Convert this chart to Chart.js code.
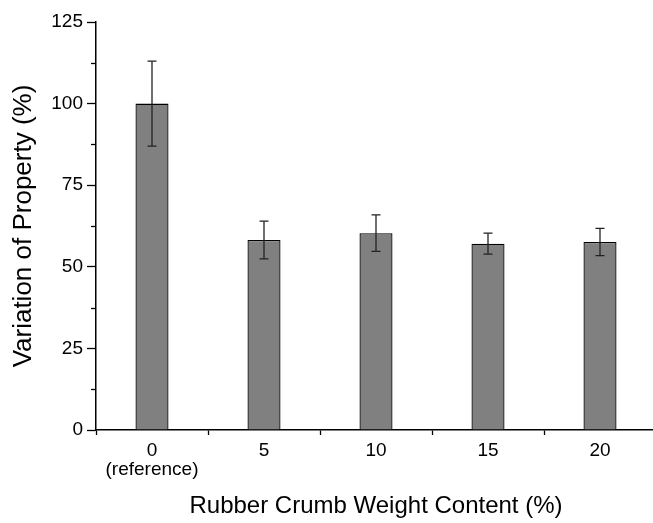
<!DOCTYPE html>
<html>
<head>
<meta charset="utf-8">
<script src="https://cdn.jsdelivr.net/npm/chart.js@4/dist/chart.umd.min.js"></script>
<style>
    html, body { margin: 0; padding: 0; background: #fff; overflow: hidden; }
    #wrap { position: relative; width: 660px; height: 523px; }
</style>
</head>
<body>
<div id="wrap"><canvas id="chart"></canvas></div>
<script>
// Data
const categories = [['0', '(reference)'], '5', '10', '15', '20'];
const variation = [100, 58.2, 60.3, 57.1, 57.6];
const errors = [13, 5.8, 5.6, 3.2, 4.2];
const yMajorTicks = [0, 25, 50, 75, 100, 125];
const yMinorTicks = [12.5, 37.5, 62.5, 87.5, 112.5];

const FONT = "'Liberation Sans', Arial, sans-serif";

// Error bars drawn from the y scale
const errorBars = {
    id: 'errorBars',
    afterDatasetsDraw(chart) {
        const ctx = chart.ctx;
        const y = chart.scales.y;
        const meta = chart.getDatasetMeta(0);
        ctx.save();
        ctx.strokeStyle = '#222';
        ctx.lineWidth = 1.3;
        meta.data.forEach((bar, i) => {
            const top = y.getPixelForValue(variation[i] + errors[i]);
            const bottom = y.getPixelForValue(variation[i] - errors[i]);
            const cap = 4.5;
            ctx.beginPath();
            ctx.moveTo(bar.x, top); ctx.lineTo(bar.x, bottom);
            ctx.moveTo(bar.x - cap, top); ctx.lineTo(bar.x + cap, top);
            ctx.moveTo(bar.x - cap, bottom); ctx.lineTo(bar.x + cap, bottom);
            ctx.stroke();
        });
        ctx.restore();
    }
};

// Short minor ticks on the y axis
const minorTicks = {
    id: 'minorTicks',
    afterDraw(chart) {
        const ctx = chart.ctx;
        const y = chart.scales.y;
        const left = chart.chartArea.left;
        ctx.save();
        ctx.strokeStyle = '#000';
        ctx.lineWidth = 1.3;
        yMinorTicks.forEach(v => {
            const py = Math.round(y.getPixelForValue(v)) + 0.5;
            ctx.beginPath();
            ctx.moveTo(left - 5, py); ctx.lineTo(left, py);
            ctx.stroke();
        });
        ctx.restore();
    }
};

new Chart(document.getElementById('chart'), {
    type: 'bar',
    data: {
        labels: categories,
        datasets: [{
            data: variation,
            backgroundColor: '#808080',
            borderColor: '#000',
            borderWidth: 1.3,
            categoryPercentage: 1,
            barPercentage: 0.295
        }]
    },
    options: {
        responsive: true,
        maintainAspectRatio: false,
        animation: false,
        layout: { padding: { top: 22, right: 4, bottom: 0, left: 0 } },
        plugins: { legend: { display: false }, tooltip: { enabled: false } },
        scales: {
            x: {
                offset: true,
                grid: { offset: true, drawOnChartArea: false, tickLength: 5, tickColor: '#000', tickWidth: 1.3 },
                border: { color: '#000', width: 1.5 },
                ticks: { color: '#000', font: { family: FONT, size: 19, lineHeight: 1.0 }, padding: 6, maxRotation: 0 },
                title: {
                    display: true,
                    text: 'Rubber Crumb Weight Content (%)',
                    color: '#000',
                    font: { family: FONT, size: 24 },
                    padding: { top: 0, bottom: 2 }
                },
                afterFit(scale) { scale.height = 93; }
            },
            y: {
                min: 0,
                max: 125,
                afterBuildTicks(scale) { scale.ticks = yMajorTicks.map(v => ({ value: v })); },
                grid: { drawOnChartArea: false, tickLength: 9, tickColor: '#000', tickWidth: 1.3 },
                border: { color: '#000', width: 1.5 },
                ticks: { color: '#000', font: { family: FONT, size: 19 }, padding: 4 },
                title: {
                    display: true,
                    text: 'Variation of Property (%)',
                    color: '#000',
                    font: { family: FONT, size: 26 },
                    padding: { top: 8, bottom: 0 }
                },
                afterFit(scale) { scale.width = 96; }
            }
        }
    },
    plugins: [errorBars, minorTicks]
});
</script>
</body>
</html>
